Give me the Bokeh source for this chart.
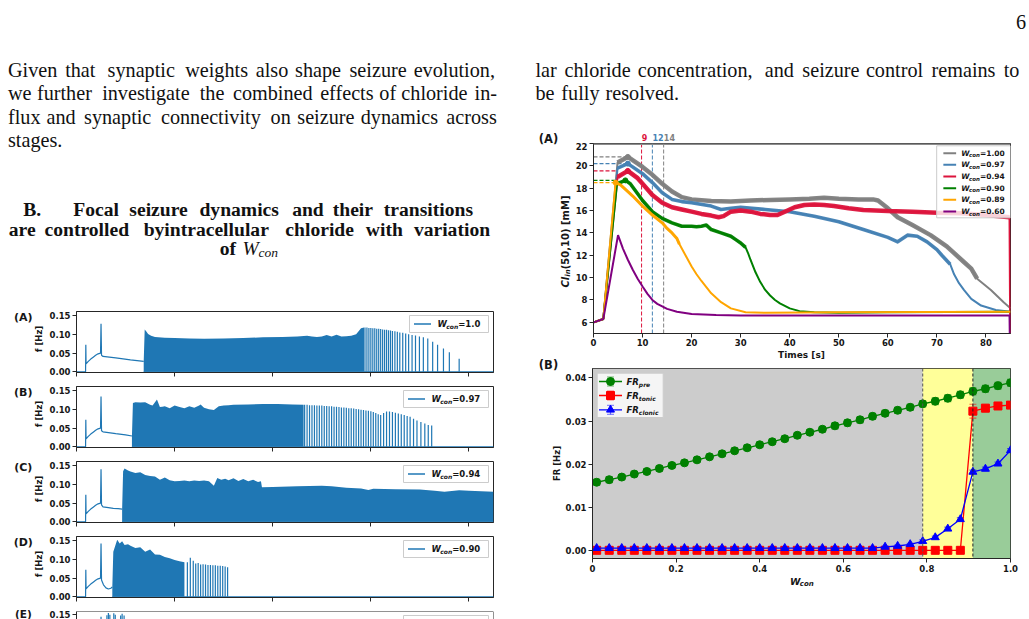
import math
from bokeh.plotting import figure
from bokeh.models import Range1d, FixedTicker, NumeralTickFormatter, Label, Span, BoxAnnotation
from bokeh.layouts import column, row
from bokeh.embed import file_html
from bokeh.resources import INLINE
from bokeh.core.properties import value

# ============================ DATA ============================
# ---- Right panel (A): Cl_in(50,10) [mM] versus time [s] ----
cl_labels = ["1.00", "0.97", "0.94", "0.90", "0.89", "0.60"]
cl_colors = ["#808080", "#4682b4", "#dc143c", "#008000", "#ffa500", "#800080"]

cl100_t = [0, 2, 4.9, 7, 10, 12, 14, 16, 18, 20, 24, 28, 32, 36, 40, 44, 47, 50, 54, 57, 58, 60, 62, 65, 68.7, 72, 75.5, 77, 78.2, 81, 83.6, 85]
cl100_v = [6.0, 6.3, 20.3, 20.8, 19.9, 19.2, 18.4, 17.7, 17.2, 17.0, 16.85, 16.8, 16.9, 16.95, 17.0, 17.05, 17.15, 17.05, 17.0, 17.0, 16.9, 16.2, 15.4, 14.7, 13.8, 12.8, 11.4, 10.8, 9.9, 8.9, 7.8, 7.25]
cl097_t = [0, 2, 4.9, 7, 10, 12, 14, 16, 18, 20, 24, 26, 28, 30, 35, 40, 45, 50, 55, 60, 62, 64, 66, 68, 70, 71, 72.7, 73.5, 74.5, 75.5, 77, 79, 82, 85]
cl097_v = [6.0, 6.3, 19.8, 20.2, 19.3, 18.5, 17.6, 17.0, 16.8, 16.7, 16.4, 16.1, 16.2, 16.3, 16.1, 15.9, 15.5, 15.0, 14.3, 13.6, 13.2, 13.8, 13.7, 13.2, 12.5, 12.0, 11.2, 10.3, 9.5, 8.9, 8.1, 7.5, 7.1, 6.95]
cl094_t = [0, 2, 4.9, 7, 9, 10, 12, 14, 16, 18, 20, 22, 24, 25.5, 26.5, 28, 30, 32, 34, 36, 37.5, 39, 41, 43, 45, 47, 49, 52, 55, 60, 65, 70, 75, 80, 84.8, 85]
cl094_v = [6.0, 6.3, 19.0, 19.55, 18.9, 18.4, 17.4, 16.7, 16.3, 16.1, 15.9, 15.7, 15.55, 15.4, 15.5, 15.9, 16.0, 15.9, 15.7, 15.6, 15.6, 15.9, 16.3, 16.5, 16.55, 16.5, 16.4, 16.2, 16.05, 15.95, 15.9, 15.8, 15.75, 15.6, 15.4, 0.0]
cl090_t = [0, 2, 4.8, 6.5, 7.5, 9, 10, 12, 14, 16, 18, 20, 21, 22, 23, 24, 26, 28, 29, 30, 31, 31.5, 32, 33, 34, 35, 36, 37, 38, 40, 42, 45, 50, 60, 85]
cl090_v = [6.0, 6.3, 18.4, 18.7, 18.4, 17.5, 16.9, 15.9, 15.3, 14.9, 14.6, 14.6, 14.55, 14.6, 14.7, 14.3, 14.0, 13.7, 13.4, 13.1, 12.7, 12.2, 11.6, 10.5, 9.6, 8.9, 8.4, 8.0, 7.7, 7.25, 7.0, 6.9, 6.85, 6.9, 6.95]
cl089_t = [0, 2, 4.5, 5.5, 7, 8, 10, 12, 14, 15, 16, 17, 17.5, 18, 19, 20, 21, 22, 24, 26, 28, 31, 35, 50, 85]
cl089_v = [6.0, 6.3, 18.5, 18.3, 17.7, 17.3, 16.4, 15.6, 14.9, 14.4, 14.0, 13.5, 13.0, 12.6, 11.8, 11.0, 10.3, 9.7, 8.6, 7.8, 7.25, 6.9, 6.85, 6.9, 6.95]
cl060_t = [0, 2, 5, 6, 7, 8, 9, 10, 11, 12, 13, 15, 17, 20, 25, 30, 84.8, 85]
cl060_v = [6.0, 6.3, 13.8, 12.6, 11.6, 10.7, 9.9, 9.2, 8.55, 8.0, 7.65, 7.2, 6.95, 6.75, 6.65, 6.6, 6.6, 0.0]
cl_noisy_from = [4.9, 4.9, 4.9, 4.8, 4.5, None]
cl_noisy_to = [80.0, 72.7, 84.8, 31.0, 17.5, None]
cl_noisy_width = [4.5, 3.6, 4.5, 3.6, 3.0, 0]
cl_line_width = [2.0, 2.0, 2.0, 2.0, 2.0, 2.0]
peak_t = [7.0, 7.0, 7.0, 6.5, 4.5]
peak_v = [20.8, 20.2, 19.55, 18.7, 18.5]
hline_end = [7.0, 6.5, 5.0, 4.6, 4.2]
vline_t = [9.8, 12.0, 14.3]
vline_lbl = ["9", "12", "14"]
vline_col = ["#dc143c", "#4682b4", "#808080"]

# ---- Right panel (B): firing rates vs W_con ----
fr_x = [0.01, 0.04, 0.07, 0.10, 0.13, 0.16, 0.19, 0.22, 0.25, 0.28, 0.31, 0.34, 0.37, 0.40, 0.43, 0.46, 0.49,
        0.52, 0.55, 0.58, 0.61, 0.64, 0.67, 0.70, 0.73, 0.76, 0.79, 0.82, 0.85, 0.88, 0.91, 0.94, 0.97, 1.00]
fr_pre = [0.0158, 0.0164, 0.0170, 0.0177, 0.0183, 0.0190, 0.0197, 0.0203, 0.0210, 0.0217, 0.0224, 0.0231, 0.0238,
          0.0245, 0.0252, 0.0259, 0.0267, 0.0274, 0.0281, 0.0289, 0.0296, 0.0303, 0.0311, 0.0318, 0.0325, 0.0332,
          0.0340, 0.0346, 0.0353, 0.0361, 0.0369, 0.0375, 0.0382, 0.0389]
fr_pre_err = [0.0007, 0.0007, 0.0006, 0.0006, 0.0006, 0.0006, 0.0006, 0.0006, 0.0006, 0.0006, 0.0006, 0.0006, 0.0006,
              0.0006, 0.0006, 0.0006, 0.0006, 0.0006, 0.0006, 0.0007, 0.0007, 0.0007, 0.0007, 0.0007, 0.0007, 0.0007,
              0.0007, 0.0008, 0.0008, 0.0008, 0.0008, 0.0008, 0.0008, 0.0008]
fr_tonic = [0.0, 0.0, 0.0, 0.0, 0.0, 0.0, 0.0, 0.0, 0.0, 0.0, 0.0, 0.0, 0.0, 0.0, 0.0, 0.0, 0.0,
            0.0, 0.0, 0.0, 0.0, 0.0, 0.0, 0.0, 0.0, 0.0, 0.0, 0.0, 0.0, 0.0, 0.0323, 0.0330, 0.0335, 0.0337]
fr_tonic_err = [0.0002, 0.0002, 0.0002, 0.0002, 0.0002, 0.0002, 0.0002, 0.0002, 0.0002, 0.0002, 0.0002, 0.0002,
                0.0002, 0.0002, 0.0002, 0.0002, 0.0002, 0.0002, 0.0002, 0.0002, 0.0002, 0.0002, 0.0002, 0.0002,
                0.0002, 0.0002, 0.0002, 0.0002, 0.0002, 0.0002, 0.0016, 0.0008, 0.0006, 0.0006]
fr_clonic = [0.0005, 0.0005, 0.0005, 0.0005, 0.0005, 0.0005, 0.0005, 0.0005, 0.0005, 0.0005, 0.0005, 0.0005,
             0.0005, 0.0005, 0.0005, 0.0005, 0.0005, 0.0005, 0.0005, 0.0005, 0.0005, 0.0005, 0.0005, 0.0008,
             0.0010, 0.0014, 0.0021, 0.0030, 0.0050, 0.0072, 0.0182, 0.0189, 0.0201, 0.0232]
fr_clonic_err = [0.0002, 0.0002, 0.0002, 0.0002, 0.0002, 0.0002, 0.0002, 0.0002, 0.0002, 0.0002, 0.0002, 0.0002,
                 0.0002, 0.0002, 0.0002, 0.0002, 0.0002, 0.0002, 0.0002, 0.0002, 0.0002, 0.0002, 0.0002, 0.0002,
                 0.0002, 0.0002, 0.0003, 0.0003, 0.0004, 0.0004, 0.0004, 0.0004, 0.0004, 0.0004]
region_edges = [0.0, 0.79, 0.91, 1.0]
region_colors = ["#cccccc", "#ffff99", "#99cc99"]
region_line_colors = ["#555555", "#222222"]

# ---- Left panels (A)-(E): f [Hz] versus time [s] ----
panel_tags = ["(A)", "(B)", "(C)", "(D)", "(E)"]
panel_wcon = ["1.0", "0.97", "0.94", "0.90", "0.89"]

A_pre_t = [0, 1.85, 1.9, 1.95, 2.4, 2.9, 3.4, 3.9, 4.4, 4.9, 5.0, 5.1, 5.4, 8.0, 11.0, 13.7]
A_pre_f = [0, 0, 0.072, 0.021, 0.028, 0.034, 0.039, 0.044, 0.048, 0.050, 0.128, 0.044, 0.041, 0.037, 0.032, 0.028]
A_ton_t = [13.7, 13.9, 14.2, 14.6, 15.2, 16.0, 18.0, 20.0, 23.0, 26.0, 30.0, 34.0, 38.0, 42.0, 45.0, 47.0, 48.0,
           49.0, 50.0, 51.0, 52.0, 53.0, 54.0, 55.0, 56.0, 57.0, 57.5, 58.0, 58.6]
A_ton_f = [0.028, 0.113, 0.108, 0.101, 0.096, 0.093, 0.091, 0.090, 0.089, 0.088, 0.089, 0.090, 0.092, 0.093, 0.094,
           0.096, 0.094, 0.093, 0.094, 0.098, 0.094, 0.099, 0.094, 0.095, 0.096, 0.100, 0.108, 0.116, 0.118]
A_clo_t = [58.8, 59.2, 59.6, 60.0, 60.4, 60.8, 61.2, 61.6, 62.0, 62.4, 62.8, 63.2, 63.6, 64.0, 64.4, 64.9, 65.4,
           65.9, 66.5, 67.1, 67.7, 68.4, 69.1, 69.9, 70.7, 71.6, 72.6, 73.6, 74.8, 76.0, 78.0]
A_clo_f = [0.118, 0.118, 0.117, 0.117, 0.116, 0.116, 0.115, 0.115, 0.114, 0.113, 0.112, 0.112, 0.111, 0.110, 0.109,
           0.108, 0.107, 0.105, 0.104, 0.102, 0.100, 0.098, 0.097, 0.094, 0.092, 0.089, 0.080, 0.072, 0.062, 0.052, 0.035]
A_base = [13.7, 85.0]

B_pre_t = [0, 1.85, 1.9, 1.95, 2.4, 2.9, 3.4, 3.9, 4.4, 4.9, 5.0, 5.1, 5.4, 8.0, 10.0, 11.3]
B_pre_f = [0, 0, 0.072, 0.021, 0.028, 0.034, 0.039, 0.044, 0.048, 0.050, 0.134, 0.043, 0.040, 0.035, 0.032, 0.029]
B_ton_t = [11.3, 11.5, 12.0, 13.0, 14.0, 15.0, 15.5, 16.0, 16.4, 17.0, 17.5, 18.0, 19.0, 20.0, 21.0, 22.0, 23.0,
           24.0, 25.0, 25.3, 26.0, 27.0, 28.0, 29.0, 30.0, 31.0, 32.0, 35.0, 38.0, 41.0, 44.0, 46.3]
B_ton_f = [0.029, 0.117, 0.119, 0.118, 0.119, 0.112, 0.110, 0.119, 0.126, 0.106, 0.107, 0.108, 0.103, 0.110, 0.106,
           0.103, 0.108, 0.104, 0.110, 0.113, 0.104, 0.100, 0.098, 0.108, 0.110, 0.111, 0.112, 0.113, 0.114, 0.114,
           0.113, 0.112]
B_clo_t = [46.5, 47.0, 47.5, 48.0, 48.5, 49.0, 49.5, 50.0, 50.5, 51.0, 51.5, 52.0, 52.5, 53.0, 53.5, 54.0, 54.5,
           55.0, 55.5, 56.0, 56.5, 57.0, 57.5, 58.0, 58.5, 59.0, 59.5, 60.0, 60.5, 61.0, 61.5, 62.0, 62.6, 63.2,
           63.8, 64.4, 65.0, 65.6, 66.2, 66.8, 67.4, 68.0, 68.7, 69.4, 70.2, 71.0, 71.7, 72.4]
B_clo_f = [0.112, 0.112, 0.111, 0.111, 0.111, 0.110, 0.110, 0.110, 0.109, 0.109, 0.108, 0.108, 0.107, 0.107, 0.106,
           0.105, 0.105, 0.104, 0.103, 0.103, 0.102, 0.101, 0.100, 0.099, 0.098, 0.097, 0.096, 0.095, 0.093, 0.090,
           0.087, 0.085, 0.090, 0.094, 0.094, 0.093, 0.091, 0.089, 0.087, 0.085, 0.082, 0.080, 0.075, 0.070, 0.066,
           0.062, 0.058, 0.057]
B_base = [11.3, 85.0]

C_pre_t = [0, 1.85, 1.9, 1.95, 2.4, 2.9, 3.4, 3.9, 4.4, 4.9, 5.0, 5.1, 5.4, 6.5, 7.5, 8.5, 9.3]
C_pre_f = [0, 0, 0.072, 0.021, 0.028, 0.034, 0.039, 0.044, 0.048, 0.050, 0.140, 0.045, 0.040, 0.038, 0.036, 0.035, 0.034]
C_ton_t = [9.3, 9.5, 9.8, 10.5, 11.0, 12.0, 13.0, 14.0, 15.0, 16.0, 17.0, 18.0, 19.0, 20.0, 21.0, 22.0, 23.0, 24.0,
           25.0, 26.0, 27.0, 28.0, 28.7, 29.5, 30.3, 31.0, 32.0, 33.0, 34.0, 35.0, 36.0, 37.0, 37.6, 37.8, 40.0, 45.0,
           50.0, 52.0, 55.0, 58.0, 59.5, 60.5, 65.0, 70.0, 73.0, 75.0, 78.0, 80.0, 85.0]
C_ton_f = [0.034, 0.135, 0.142, 0.137, 0.134, 0.130, 0.132, 0.125, 0.122, 0.121, 0.112, 0.118, 0.111, 0.108, 0.109,
           0.110, 0.108, 0.110, 0.109, 0.110, 0.108, 0.096, 0.117, 0.112, 0.115, 0.111, 0.116, 0.109, 0.114, 0.108,
           0.112, 0.106, 0.108, 0.092, 0.093, 0.095, 0.096, 0.095, 0.091, 0.089, 0.085, 0.088, 0.087, 0.086, 0.083,
           0.080, 0.084, 0.083, 0.080]
C_clo_t = []
C_clo_f = []
C_base = [9.3, 85.0]

D_pre_t = [0, 1.85, 1.9, 1.95, 2.4, 2.9, 3.4, 3.9, 4.4, 4.9, 5.0, 5.1, 5.5, 6.0, 6.5, 7.0, 7.3]
D_pre_f = [0, 0, 0.072, 0.021, 0.028, 0.034, 0.039, 0.044, 0.048, 0.050, 0.142, 0.045, 0.032, 0.024, 0.021, 0.023, 0.026]
D_ton_t = [7.3, 7.5, 8.0, 8.3, 8.8, 9.3, 9.8, 10.5, 11.0, 12.0, 13.0, 14.0, 15.0, 16.0, 17.0, 18.0, 19.0, 20.0, 21.0, 22.0]
D_ton_f = [0.026, 0.120, 0.140, 0.152, 0.142, 0.148, 0.138, 0.140, 0.136, 0.130, 0.132, 0.120, 0.126, 0.113, 0.112,
           0.106, 0.103, 0.098, 0.095, 0.092]
D_clo_t = [22.6, 23.2, 23.8, 24.3, 24.8, 25.3, 25.8, 26.3, 26.8, 27.3, 27.8, 28.3, 28.8, 29.3, 29.8, 30.3, 30.8]
D_clo_f = [0.092, 0.104, 0.096, 0.089, 0.090, 0.086, 0.087, 0.086, 0.085, 0.085, 0.084, 0.084, 0.083, 0.083, 0.082,
           0.081, 0.079]
D_base = [7.3, 85.0]

E_clo_t = [5.0, 6.2, 6.5, 6.8, 7.6, 7.9, 9.0, 9.3, 9.7]
E_clo_f = [0.143, 0.147, 0.153, 0.148, 0.152, 0.148, 0.146, 0.151, 0.146]

# ---- page text ----
body_left = ["Given that synaptic weights also shape seizure evolution,",
             "we further investigate the combined effects of chloride in-",
             "flux and synaptic connectivity on seizure dynamics across",
             "stages."]
body_right = ["lar chloride concentration, and seizure control remains to",
              "be fully resolved."]
head_num = "B."
head_lines = ["Focal seizure dynamics and their transitions",
              "are controlled byintracellular chloride with variation"]
page_no = "6"

# ============================ HELPERS ============================
BLUE = "#1f77b4"
INK = "#161616"
SERIF = "Liberation Serif"
SANS = "DejaVu Sans"
BODY_PX = 20.2
HEAD_PX = 19.6

CMR = dict(a=500, b=556, c=444, d=556, e=444, f=306, g=500, h=556, i=278, j=306, k=528, l=278, m=833, n=556,
           o=500, p=556, q=528, r=392, s=394, t=389, u=556, v=528, w=722, x=528, y=528, z=444)
CMR.update({"G": 785, "B": 708, "F": 653, "W": 1028, ",": 278, ".": 278, "-": 333})
CMBX = dict(a=559, b=639, c=511, d=639, e=527, f=351, g=575, h=639, i=319, j=351, k=607, l=319, m=958, n=639,
            o=575, p=639, q=607, r=474, s=454, t=447, u=639, v=607, w=831, x=607, y=607, z=511)
CMBX.update({"B": 818, "F": 724, ".": 319})


def no_align(p):
    try:
        p.frame_align = False
    except Exception:
        pass
    return p


def word_w(wd, table, size):
    return sum(table.get(ch, 500) for ch in wd) / 1000.0 * size


def place_words(words, left, right, size, table, justify=True, space=0.333):
    ws = [word_w(w, table, size) for w in words]
    if justify and len(words) > 1:
        gap = (right - left - sum(ws)) / (len(words) - 1)
    else:
        gap = space * size
    xs, x = [], left
    for w in ws:
        xs.append(x)
        x += w + gap
    return xs


def canvas(w, h):
    p = figure(width=w, height=h, x_range=Range1d(0, w), y_range=Range1d(h, 0), x_axis_type=None,
               y_axis_type=None, output_backend="svg", toolbar_location=None, min_border=0)
    p.min_border_left = p.min_border_right = p.min_border_top = p.min_border_bottom = 0
    p.outline_line_color = None
    p.grid.visible = False
    return no_align(p)


def words_line(p, words, xs, base, size, style="normal"):
    p.text(x=xs, y=[base] * len(words), text=words, text_font=value(SERIF), text_font_size=value(f"{size}px"),
           text_font_style=style, text_baseline="alphabetic", text_align="left", text_color="#111111")


def ctext(p, x, y, text, size, style="bold", align="left", baseline="middle", angle=0.0, color=INK, font=SANS):
    p.text(x=[x], y=[y], text=[text], text_font=value(font), text_font_size=value(f"{size}px"),
           text_font_style=style, text_align=align, text_baseline=baseline, angle=angle, text_color=color)


class Geo:
    def __init__(s, ox, oy, bl, bt, fw, fh, xr, yr):
        s.ox, s.oy, s.bl, s.bt, s.fw, s.fh, s.xr, s.yr = ox, oy, bl, bt, fw, fh, xr, yr

    def x(s, px):
        return s.xr[0] + (px - s.ox - s.bl) / s.fw * (s.xr[1] - s.xr[0])

    def y(s, py):
        return s.yr[1] - (py - s.oy - s.bt) / s.fh * (s.yr[1] - s.yr[0])


def chart(w, h, g, br, bb, x_axis=True):
    p = figure(width=w, height=h, x_range=Range1d(*g.xr), y_range=Range1d(*g.yr),
               min_border_left=g.bl, min_border_right=br, min_border_top=g.bt, min_border_bottom=bb,
               output_backend="svg", toolbar_location=None, x_axis_location=("below" if x_axis else None))
    p.grid.visible = False
    p.outline_line_color = "#262626"
    for ax in p.axis:
        ax.axis_line_color = "#262626"
        ax.major_tick_line_color = "#262626"
        ax.major_tick_out = 4
        ax.major_tick_in = 0
        ax.minor_tick_out = 0
        ax.minor_tick_in = 0
        ax.major_label_text_font = SANS
        ax.major_label_text_font_style = "bold"
        ax.major_label_text_font_size = "8.5px"
        ax.major_label_text_color = INK
        ax.major_label_standoff = 2
    return no_align(p)


def put(p, g, px, py, text, size, style="bold", color=INK, align="left", baseline="middle"):
    # text inside the plotting frame, positioned from page pixels
    p.add_layout(Label(x=g.x(px), y=g.y(py), x_units="data", y_units="data", text=text, text_font=SANS,
                       text_font_size=f"{size}px", text_font_style=style, text_color=color,
                       text_align=align, text_baseline=baseline))


def wcon_text(p, g, px, py, tail, fs, sfs, color=INK):
    put(p, g, px, py, "W", fs, "bold italic", color)
    cx = px + 1.03 * fs
    put(p, g, cx, py + 0.3 * fs, "con", sfs, "bold italic", color)
    put(p, g, cx + 1.99 * sfs, py, "=" + tail, fs, "bold", color)


# ============================ LEFT TEXT ============================
tl = canvas(515, 305)
for i, line in enumerate(body_left):
    ws = line.split(" ")
    xs = place_words(ws, 7.5, 496.7, 19.4, CMR, justify=(i < len(body_left) - 1))
    words_line(tl, ws, xs, 69.5 + 23.3 * i, BODY_PX)
words_line(tl, [head_num], [22.7], 209.3, HEAD_PX, "bold")
hw = head_lines[0].split(" ")
words_line(tl, hw, place_words(hw, 72.7, 480.7, 18.3, CMBX), 209.3, HEAD_PX, "bold")
hw = head_lines[1].split(" ")
words_line(tl, hw, place_words(hw, 8.3, 495.7, 18.3, CMBX), 228.7, HEAD_PX, "bold")
words_line(tl, ["of"], [219.3], 248.3, HEAD_PX, "bold")
ctext(tl, 242.0, 248.3, "W", 19.5, "italic", baseline="alphabetic", font=SERIF, color="#111111")
ctext(tl, 258.0, 251.8, "con", 13.5, "italic", baseline="alphabetic", font=SERIF, color="#111111")

# ============================ LEFT PANELS ============================
panel_data = [
    (A_pre_t, A_pre_f, A_ton_t, A_ton_f, A_clo_t, A_clo_f, A_base),
    (B_pre_t, B_pre_f, B_ton_t, B_ton_f, B_clo_t, B_clo_f, B_base),
    (C_pre_t, C_pre_f, C_ton_t, C_ton_f, C_clo_t, C_clo_f, C_base),
    (D_pre_t, D_pre_f, D_ton_t, D_ton_f, D_clo_t, D_clo_f, D_base),
    (None, None, None, None, E_clo_t, E_clo_f, None),
]
left_rows = []
for i in range(5):
    last = (i == 4)
    oy = 305 + 75 * i
    hgt = 14 if last else 75
    bt, bb = 6, (0 if last else 8)
    fh = hgt - bt - bb
    yr = (0.1354, 0.1567) if last else (-0.0017, 0.1607)
    g = Geo(46, oy, 30, bt, 417, fh, (0, 85), yr)
    p = chart(469, hgt, g, 22, bb, x_axis=not last)
    p.yaxis.ticker = FixedTicker(ticks=[0.0, 0.05, 0.10, 0.15])
    p.yaxis.formatter = NumeralTickFormatter(format="0.00")
    if not last:
        p.xaxis.ticker = FixedTicker(ticks=[0, 20, 40, 60, 80])
        p.xaxis.major_label_text_font_size = "1px"
        p.xaxis.major_label_text_color = None
        p.xaxis.major_label_standoff = 0
    else:
        p.outline_line_color = None
        p.add_layout(Span(location=yr[1], dimension="width", line_color="#262626", line_width=1))
        p.add_layout(Span(location=85, dimension="height", line_color="#262626", line_width=1))
    pre_t, pre_f, ton_t, ton_f, clo_t, clo_f, base = panel_data[i]
    if base is not None:
        p.line(base, [0, 0], line_color=BLUE, line_width=1.2)
    if ton_t is not None:
        p.varea(x=ton_t, y1=[0] * len(ton_t), y2=ton_f, fill_color=BLUE)
    if clo_t:
        p.segment(x0=clo_t, y0=[0] * len(clo_t), x1=clo_t, y1=clo_f, line_color=BLUE, line_width=1.2)
    if pre_t is not None:
        p.line(pre_t, pre_f, line_color=BLUE, line_width=1.2)
    # legend (box + sample + label)
    ft = oy + bt
    bx0 = 409 if i == 0 else 403
    p.quad(left=[g.x(bx0)], right=[g.x(488)], top=[g.y(ft + 4)], bottom=[g.y(ft + 21)],
           fill_color="white", fill_alpha=0.85, line_color="#cccccc", line_width=1)
    if not last:
        p.line([g.x(bx0 + 4.5), g.x(bx0 + 21.5)], [g.y(ft + 12.5)] * 2, line_color=BLUE, line_width=1.5)
        wcon_text(p, g, bx0 + 28, ft + 12.5, panel_wcon[i], 8.5, 6)
    # left strip with panel tag and y label
    s = canvas(46, hgt)
    if not last:
        ctext(s, 22.8, bt + 5.7, panel_tags[i], 11, "bold", align="center")
        ctext(s, 38.5, bt + fh / 2 - 3, "f [Hz]", 8.5, "bold", align="center", angle=math.pi / 2)
    else:
        ctext(s, 22.8, 8.2, panel_tags[i], 10.5, "bold", align="center")
    left_rows.append(row(s, p, spacing=0))

# ============================ RIGHT TEXT ============================
TOP_R = 124
tr = canvas(514, TOP_R)
tr.text(x=[510.5], y=[21], text=[page_no], text_font=value(SERIF), text_font_size=value(f"{BODY_PX}px"),
        text_baseline="alphabetic", text_align="right", text_color="#111111")
for i, line in enumerate(body_right):
    ws = line.split(" ")
    xs = place_words(ws, 20, 505.5, 19.4, CMR, justify=(i < len(body_right) - 1))
    words_line(tr, ws, xs, 69.5 + 23.3 * i, BODY_PX)

# ============================ CHART (A) ============================
gA = Geo(572, 142, 20, 1, 418, 190, (0, 85), (5, 22))
pA = chart(457, 208, gA, 19, 17)
pA.xaxis.ticker = FixedTicker(ticks=[0, 10, 20, 30, 40, 50, 60, 70, 80])
pA.yaxis.ticker = FixedTicker(ticks=[6, 8, 10, 12, 14, 16, 18, 20, 22])
pA.xaxis.major_label_standoff = 1
pA.segment(x0=vline_t, y0=[5] * 3, x1=vline_t, y1=[22] * 3, line_color=vline_col, line_dash="4 2", line_width=1)
pA.segment(x0=[0] * 5, y0=peak_v, x1=hline_end, y1=peak_v, line_color=cl_colors[:5], line_dash="4 2", line_width=1.2)
series = [(cl100_t, cl100_v), (cl097_t, cl097_v), (cl094_t, cl094_v), (cl090_t, cl090_v), (cl089_t, cl089_v),
          (cl060_t, cl060_v)]
for k, (ts, vs) in enumerate(series):
    c = cl_colors[k]
    pA.line(ts, vs, line_color=c, line_width=cl_line_width[k])
    if cl_noisy_from[k] is not None:
        sel = [j for j, t in enumerate(ts) if cl_noisy_from[k] <= t <= cl_noisy_to[k]]
        pA.line([ts[j] for j in sel], [vs[j] for j in sel], line_color=c, line_width=cl_noisy_width[k],
                line_join="round", line_alpha=0.95)
pA.scatter(peak_t, peak_v, size=5, color=cl_colors[:5])
pA.add_layout(Span(location=22, dimension="width", line_color="#8c8c8c", line_width=3))
# legend A
pA.quad(left=[gA.x(936)], right=[gA.x(1010)], top=[gA.y(145.3)], bottom=[gA.y(217.3)],
        fill_color="white", fill_alpha=0.8, line_color="#cccccc", line_width=1)
for k in range(6):
    yy = 152.7 + 11.66 * k
    pA.line([gA.x(942.7), gA.x(955.5)], [gA.y(yy)] * 2, line_color=cl_colors[k], line_width=2)
    wcon_text(pA, gA, 960.7, yy, cl_labels[k], 7.5, 5.5)

# strip above chart A: key times (page y TOP_R..142)
topA = canvas(457, 142 - TOP_R)
for xv, lbl, c in zip(vline_t, vline_lbl, vline_col):
    ctext(topA, 20 + xv * 418.0 / 85.0 + 1, 140.5 - TOP_R, lbl, 8, "bold", baseline="bottom", color=c)
# strip left of chart A: panel tag and y label
sA = canvas(57, 350 - TOP_R)
ctext(sA, 33, 138.0 - TOP_R, "(A)", 11.5, "bold", align="center")
ctext(sA, 50, 287 - TOP_R, "Cl", 10, "bold italic", angle=math.pi / 2)
ctext(sA, 52.5, 276.2 - TOP_R, "in", 7, "bold italic", angle=math.pi / 2)
ctext(sA, 50, 268.8 - TOP_R, "(50,10) [mM]", 10, "bold", angle=math.pi / 2)
blockA = row(sA, column(topA, pA, spacing=0), spacing=0)

# ============================ CHART (B) ============================
gB = Geo(562, 366, 30, 2, 418, 190, (0, 1.0), (-0.0019, 0.0422))
pB = chart(467, 209, gB, 19, 17)
pB.xaxis.ticker = FixedTicker(ticks=[0, 0.2, 0.4, 0.6, 0.8, 1.0])
pB.xaxis.formatter = NumeralTickFormatter(format="0.0")
pB.xaxis.major_label_overrides = {0: "0"}
pB.yaxis.ticker = FixedTicker(ticks=[0.0, 0.01, 0.02, 0.03, 0.04])
pB.yaxis.formatter = NumeralTickFormatter(format="0.00")
for k in range(3):
    pB.add_layout(BoxAnnotation(left=region_edges[k], right=region_edges[k + 1], fill_color=region_colors[k],
                                fill_alpha=1.0, line_color=None, level="underlay"))
for k in range(2):
    pB.add_layout(Span(location=region_edges[k + 1], dimension="height", line_color=region_line_colors[k],
                       line_dash="3 2", line_width=1))
fr_series = [(fr_pre, fr_pre_err, "green", "circle"), (fr_tonic, fr_tonic_err, "red", "square"),
             (fr_clonic, fr_clonic_err, "blue", "triangle")]
for vals, errs, c, mk in fr_series:
    lo = [v - e for v, e in zip(vals, errs)]
    hi = [v + e for v, e in zip(vals, errs)]
    pB.segment(x0=fr_x, y0=lo, x1=fr_x, y1=hi, line_color=c, line_alpha=0.55, line_width=1.2)
    pB.scatter(fr_x, lo, marker="dash", size=7, line_color=c, line_alpha=0.55, line_width=1.2)
    pB.scatter(fr_x, hi, marker="dash", size=7, line_color=c, line_alpha=0.55, line_width=1.2)
for vals, errs, c, mk in fr_series:
    pB.line(fr_x, vals, line_color=c, line_width=1.3)
    pB.scatter(fr_x, vals, marker=mk, size=8, fill_color=c, line_color=c)
# legend B
pB.quad(left=[gB.x(596.7)], right=[gB.x(662.7)], top=[gB.y(372.7)], bottom=[gB.y(417)],
        fill_color="white", fill_alpha=0.8, line_color="#cccccc", line_width=1)
leg_sub = ["pre", "tonic", "clonic"]
for k, (vals, errs, c, mk) in enumerate(fr_series):
    yy = [381.0, 395.0, 409.3][k]
    pB.line([gB.x(598.5), gB.x(621.5)], [gB.y(yy)] * 2, line_color=c, line_width=1.3)
    pB.segment(x0=[gB.x(610)], y0=[gB.y(yy - 4.5)], x1=[gB.x(610)], y1=[gB.y(yy + 4.5)], line_color=c,
               line_alpha=0.55, line_width=1.2)
    pB.scatter([gB.x(610)] * 2, [gB.y(yy - 4.5), gB.y(yy + 4.5)], marker="dash", size=7, line_color=c,
               line_alpha=0.55)
    pB.scatter([gB.x(610)], [gB.y(yy)], marker=mk, size=8, fill_color=c, line_color=c)
    put(pB, gB, 626, yy, "FR", 8.5, "bold italic")
    put(pB, gB, 626 + 1.453 * 8.5, yy + 2.6, leg_sub[k], 6, "bold italic")

topB = canvas(467, 16)
ctext(topB, 801 - 562, 4.5, "Times [s]", 9, "bold", align="center")
botB = canvas(467, 20)
ctext(botB, 789.5 - 562, 6, "W", 9.5, "bold italic")
ctext(botB, 789.5 - 562 + 1.03 * 9.5, 8.5, "con", 7, "bold italic")
sB = canvas(47, 245)
ctext(sB, 33, 14, "(B)", 11.5, "bold", align="center")
ctext(sB, 41, 113, "FR [Hz]", 8.5, "bold", align="center", angle=math.pi / 2)
blockB = row(sB, column(topB, pB, botB, spacing=0), spacing=0)

# ============================ LAYOUT ============================
left_col = column(tl, *left_rows, spacing=0)
right_col = column(tr, blockA, blockB, spacing=0)
layout = row(left_col, right_col, spacing=0)
open("out.html", "w").write(file_html(layout, INLINE, title="Focal seizure dynamics"))
